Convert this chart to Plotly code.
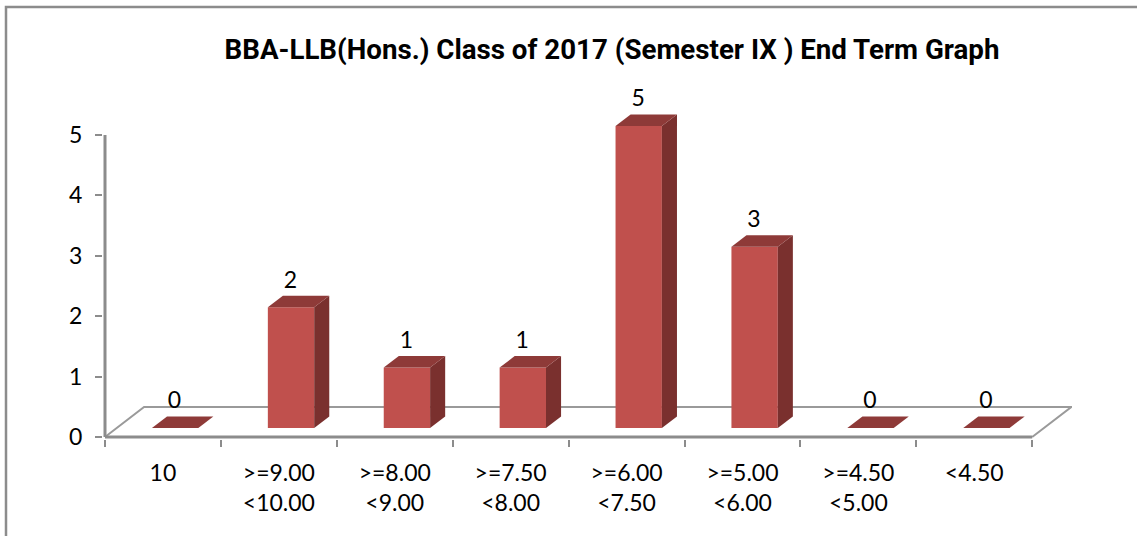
import plotly.graph_objects as go

categories = ["10", ">=9.00<br><10.00", ">=8.00<br><9.00", ">=7.50<br><8.00",
              ">=6.00<br><7.50", ">=5.00<br><6.00", ">=4.50<br><5.00", "<4.50"]
values = [0, 2, 1, 1, 5, 3, 0, 0]
title = "BBA-LLB(Hons.) Class of 2017 (Semester IX ) End Term Graph"

FONT = "Lato"
FRONT, SIDE, TOP = "#C0504D", "#7A302E", "#8E3A38"
GRAY = "#8C8C8C"
BAR_W = 0.40
BASE_DX, BASE_DY = 0.105, 0.15   # bar footprint shift on the floor
DEPTH_X, DEPTH_Y = 0.13, 0.19    # bar depth
FLOOR_X, FLOOR_Y = 0.337, 0.497  # floor depth
n = len(values)
xs = list(range(n))
W, H = 1137, 536
PX_X, PX_Y = 115.9, 60.4         # pixels per x / y unit
PAD = 2                          # pixels of plot area kept outside the axis lines
ORIGIN_X, ORIGIN_Y = 105, 437    # where the axis lines meet
ML, MR, MT, MB = ORIGIN_X - PAD, 65, 87, H - ORIGIN_Y - PAD
PW, PH = W - ML - MR, H - MT - MB
x_lo = -0.5 - PAD / PX_X
y_lo = -PAD / PX_Y

fig = go.Figure()

# axis lines that stop at the last tick, while the plot area also holds the 3D overhang
fig.add_trace(go.Scatter(x=[-0.5, n - 0.5], y=[0, 0], mode="lines", line=dict(color=GRAY, width=3),
                         hoverinfo="skip", showlegend=False))
fig.add_trace(go.Scatter(x=[-0.5, -0.5], y=[0, 5], mode="lines", line=dict(color=GRAY, width=3),
                         hoverinfo="skip", showlegend=False))

# side and top faces
for x, v in zip(xs, values):
    l = x - BAR_W / 2 + BASE_DX
    r = l + BAR_W
    b = BASE_DY
    t = b + v
    if v > 0:
        fig.add_trace(go.Scatter(
            x=[r, r + DEPTH_X, r + DEPTH_X, r, r], y=[b, b + DEPTH_Y, t + DEPTH_Y, t, b],
            mode="lines", line=dict(width=0), fill="toself", fillcolor=SIDE,
            hoverinfo="skip", showlegend=False))
    fig.add_trace(go.Scatter(
        x=[l, l + DEPTH_X, r + DEPTH_X, r, l], y=[t, t + DEPTH_Y, t + DEPTH_Y, t, t],
        mode="lines", line=dict(width=0), fill="toself", fillcolor=TOP,
        hoverinfo="skip", showlegend=False))

# front faces
fig.add_trace(go.Bar(
    x=xs, y=values, base=BASE_DY, width=BAR_W, offset=-BAR_W / 2 + BASE_DX,
    marker=dict(color=FRONT, line=dict(width=0)), showlegend=False))

# data labels
fig.add_trace(go.Scatter(
    x=[x + 0.1 for x in xs], y=[v + 0.57 for v in values], text=[str(v) for v in values],
    mode="text", textposition="middle center", textfont=dict(family=FONT, size=23, color="#000000"),
    hoverinfo="skip", showlegend=False))

fx0, fy0 = (6 - ML) / PW, (H - MB - 540) / PH
fy1 = (H - MB - 7) / PH
fig.update_layout(
    width=W, height=H, autosize=False,
    margin=dict(l=ML, r=MR, t=MT, b=MB, pad=0),
    paper_bgcolor="white", plot_bgcolor="white", barmode="overlay",
    title=dict(text="<b>%s</b>" % title, x=612 / W, xanchor="center", y=1 - 49 / H, yanchor="middle",
               font=dict(family="Roboto", size=27.7, color="#000000")),
    shapes=[
        dict(type="path", xref="paper", yref="paper", layer="below",
             path=f"M {fx0},{fy0} L {fx0},{fy1} L 1.2,{fy1}", line=dict(color=GRAY, width=2.5)),
        dict(type="path", xref="x", yref="y", layer="below",
             path=f"M -0.5,0 L {-0.5 + FLOOR_X},{FLOOR_Y} L {n - 0.5 + FLOOR_X},{FLOOR_Y} L {n - 0.5},0",
             line=dict(color="#9A9A9A", width=2)),
    ],
    xaxis=dict(range=[x_lo, x_lo + PW / PX_X], tickmode="array", tickvals=xs, ticktext=categories, ticks="",
               showgrid=False, zeroline=False, showline=False,
               tickfont=dict(family=FONT, size=23, color="#000000"), ticklabelstandoff=18,
               minor=dict(tickmode="array", tickvals=[x - 0.5 for x in xs] + [n - 0.5], ticks="outside",
                          ticklen=7, tickwidth=2, tickcolor=GRAY, showgrid=False)),
    yaxis=dict(range=[y_lo, y_lo + PH / PX_Y], tickmode="array", tickvals=[0, 1, 2, 3, 4, 5], ticks="outside", ticklen=7,
               tickwidth=2, tickcolor=GRAY, showgrid=False, zeroline=False, showline=False,
               tickfont=dict(family=FONT, size=23, color="#000000"), ticklabelstandoff=8),
)
fig.write_html("out.html", config=dict(displayModeBar=False), post_script="document.body.style.margin='0';")
